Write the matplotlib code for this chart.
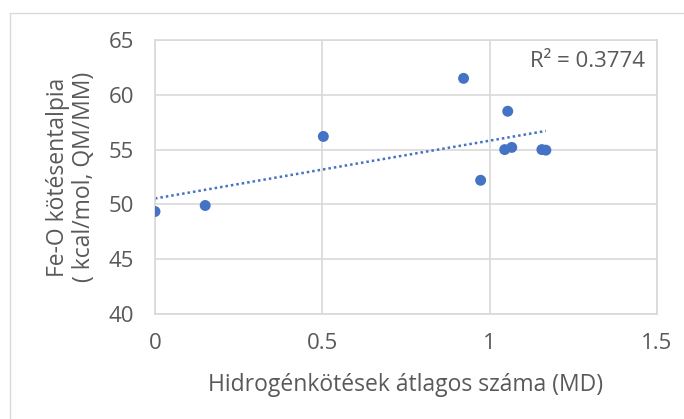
import numpy as np
import matplotlib
matplotlib.use("Agg")
import matplotlib.pyplot as plt
from matplotlib.patches import Rectangle

plt.rcParams['font.family'] = ['Open Sans', 'DejaVu Sans']

x_vals = [0.0, 0.15, 0.503, 0.922, 0.973, 1.054, 1.045, 1.066, 1.156, 1.168]
y_vals = [49.35, 49.9, 56.2, 61.5, 52.2, 58.5, 55.0, 55.2, 55.0, 54.95]
x_ticks = [0, 0.5, 1, 1.5]
x_tick_labels = ['0', '0.5', '1', '1.5']
y_ticks = [40, 45, 50, 55, 60, 65]
r2_text = 'R² = 0.3774'
x_label = 'Hidrogénkötések átlagos száma (MD)'
y_label = 'Fe-O kötésentalpia\n( kcal/mol, QM/MM)'

blue = '#4472C4'
grid_c = '#D9D9D9'
text_c = '#595959'
fs_tick = 16
fs_lab = 16.5

fig = plt.figure(figsize=(6.84, 4.19), dpi=100)
fig.patches.append(Rectangle((10/684, -0.1), 1.0, 1 - 13/419 + 0.1, transform=fig.transFigure,
                             fill=False, edgecolor='#D9D9D9', linewidth=1))
ax = fig.add_axes([155/684, 1 - 314/419, (657 - 155)/684, (314 - 40)/419])

ax.scatter(x_vals, y_vals, s=62, color=blue, zorder=3, edgecolors='none')

xa = np.array(x_vals); ya = np.array(y_vals)
m, b = np.polyfit(xa, ya, 1)
xl = np.array([0, xa.max()])
ax.plot(xl, m * xl + b, linestyle=(0, (1, 1.2)), color=blue, linewidth=1.8, zorder=2)

ax.set_xlim(0, 1.5)
ax.set_ylim(40, 65)
ax.set_xticks(x_ticks)
ax.set_xticklabels(x_tick_labels)
ax.set_yticks(y_ticks)
ax.grid(True, color=grid_c, linewidth=1.2)
ax.set_axisbelow(True)
for s in ax.spines.values():
    s.set_color(grid_c)
    s.set_linewidth(1.2)
ax.tick_params(length=0, labelsize=fs_tick, colors=text_c)
ax.tick_params(axis='y', pad=15)
ax.tick_params(axis='x', pad=14)

ax.text(0.976, 0.92, r2_text, transform=ax.transAxes, ha='right', va='center',
        fontsize=fs_tick, color=text_c)

ax.set_xlabel(x_label, fontsize=fs_lab, color=text_c, va='center')
ax.xaxis.set_label_coords(0.5, -(385 - 314) / 274)
ax.set_ylabel(y_label, fontsize=fs_lab, color=text_c, linespacing=1.1, va='center')
ax.yaxis.set_label_coords(-(155 - 71) / 502, 0.5)

fig.savefig('out.png', dpi=100)
